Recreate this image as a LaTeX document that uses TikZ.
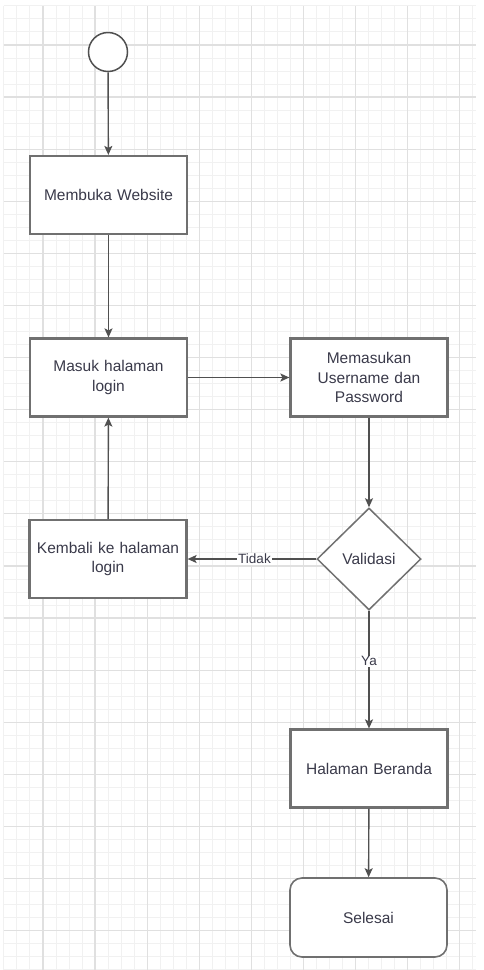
\documentclass[tikz,border=0pt]{standalone}
\usepackage{fontspec}
\setmainfont{Liberation Sans}
\usetikzlibrary{arrows.meta,shapes.geometric}
\definecolor{gridminor}{HTML}{F1F1F1}
\definecolor{gridmajor}{HTML}{E0E0E0}
\definecolor{boxline}{HTML}{707070}
\definecolor{flowline}{HTML}{505050}
\definecolor{txt}{HTML}{3A3A4A}
\tikzset{
  base/.style={draw=boxline, fill=white, text=txt, align=center,
    font=\fontsize{15.5}{19.5}\selectfont, inner sep=0pt},
  procbox/.style={base, rectangle, line width=2.2pt,
    minimum width=157pt, minimum height=78pt, text width=150pt},
  endbox/.style={base, rectangle, rounded corners=12pt, line width=1.6pt,
    minimum width=157pt, minimum height=79pt},
  decision/.style={base, diamond, line width=1.5pt,
    minimum width=104pt, minimum height=102pt},
  startdot/.style={draw=flowline, fill=white, circle, line width=1.5pt,
    minimum size=39pt, inner sep=0pt},
  flow/.style={draw=flowline, line width=1.4pt,
    -{Stealth[length=9pt,width=8pt,inset=2pt]}},
  lbl/.style={fill=white, text=txt, inner sep=1pt,
    font=\fontsize{13.5}{16}\selectfont}
}
\begin{document}
\begin{tikzpicture}[x=1pt,y=-1pt]
  \useasboundingbox (0,0) rectangle (483,970);
  \fill[white] (0,0) rectangle (483,970);
  % background grid
  \foreach \i in {0,...,36} {
    \pgfmathsetmacro\xx{3.9+\i*13.025}
    \draw[gridminor, line width=1pt] (\xx,6) -- (\xx,970);
  }
  \foreach \j in {0,...,74} {
    \pgfmathsetmacro\yy{5.9+\j*13.025}
    \draw[gridminor, line width=1pt] (3.9,\yy) -- (476,\yy);
  }
  \foreach \i in {3,7,...,35} {
    \pgfmathsetmacro\xx{3.9+\i*13.025}
    \draw[gridmajor, line width=1.2pt] (\xx,6) -- (\xx,970);
  }
  \foreach \j in {3,7,...,71} {
    \pgfmathsetmacro\yy{5.9+\j*13.025}
    \draw[gridmajor, line width=1.2pt] (3.9,\yy) -- (476,\yy);
  }

  % flow nodes
  \node[startdot] (start) at (108,52) {};
  \node[procbox] (open) at (108.5,195) {Membuka Website};
  \node[procbox] (login) at (108.5,377.5) {Masuk halaman\\login};
  \node[procbox] (input) at (369,377.5) {Memasukan\\Username dan\\Password};
  \node[decision] (valid) at (369,559) {Validasi};
  \node[procbox] (back) at (108,559) {Kembali ke halaman\\login};
  \node[procbox] (home) at (369,768.5) {Halaman Beranda};
  \node[endbox] (done) at (368.5,917.5) {Selesai};

  % connectors
  \draw[flow] (start) -- (open);
  \draw[flow] (open) -- (login);
  \draw[flow] (login) -- (input);
  \draw[flow] (input) -- (valid);
  \draw[flow] (valid) -- node[lbl, pos=0.48] {Tidak} (back);
  \draw[flow] (back) -- (login);
  \draw[flow] (valid) -- node[lbl, pos=0.43] {Ya} (home);
  \draw[flow] (home) -- (done);
\end{tikzpicture}
\end{document}
